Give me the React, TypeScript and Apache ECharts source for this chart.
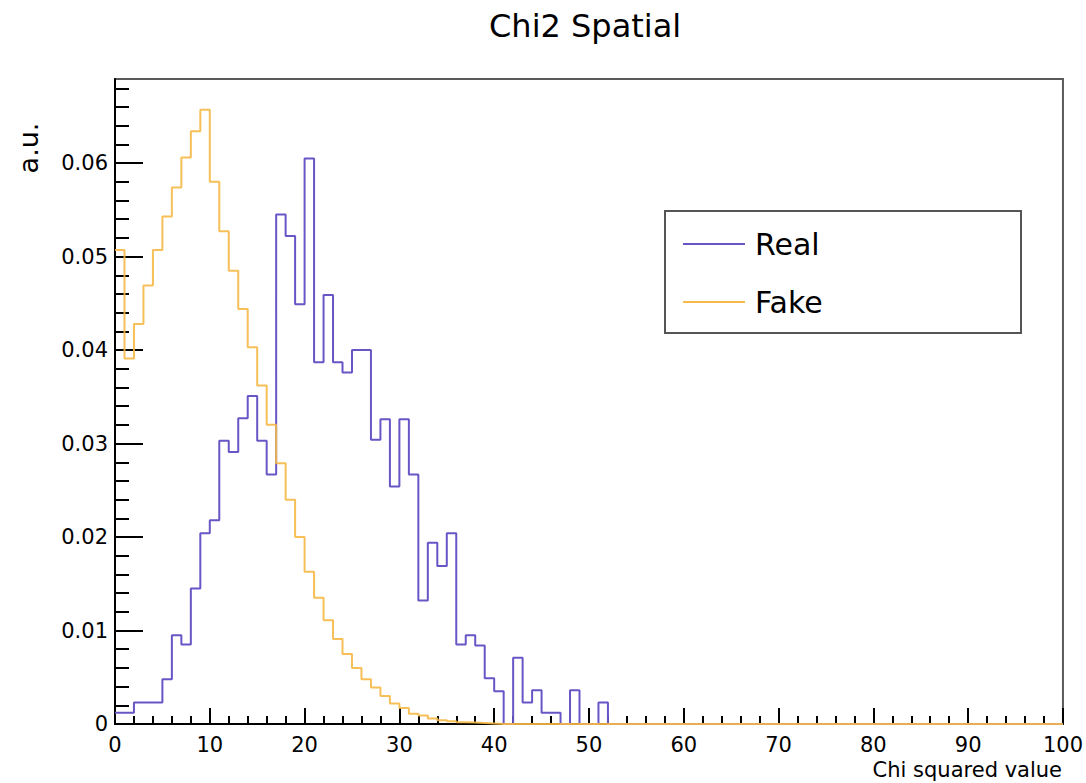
import React, { useEffect, useRef } from "react";
import * as echarts from "echarts";

// Histogram binning: 100 bins of width 1 from 0 to 100
const binLow = 0;
const binWidth = 1;

// Bin contents (a.u.)
const realValues = [
  0.0012, 0.0012, 0.0023, 0.0023, 0.0023, 0.0048, 0.0095, 0.0085, 0.0145, 0.0204,
  0.0218, 0.0303, 0.0291, 0.0327, 0.0351, 0.0303, 0.0267, 0.0545, 0.0522, 0.0449,
  0.0605, 0.0387, 0.0459, 0.0387, 0.0376, 0.0400, 0.0400, 0.0304, 0.0326, 0.0254,
  0.0326, 0.0267, 0.0132, 0.0194, 0.0169, 0.0204, 0.0085, 0.0095, 0.0084, 0.0049,
  0.0035, 0, 0.0071, 0.0023, 0.0036, 0.0012, 0.0012, 0, 0.0036, 0,
  0, 0.0023, 0, 0, 0, 0, 0, 0, 0, 0,
  0, 0, 0, 0, 0, 0, 0, 0, 0, 0,
  0, 0, 0, 0, 0, 0, 0, 0, 0, 0,
  0, 0, 0, 0, 0, 0, 0, 0, 0, 0,
  0, 0, 0, 0, 0, 0, 0, 0, 0, 0,
];

const fakeValues = [
  0.0507, 0.0391, 0.0428, 0.0469, 0.0507, 0.0543, 0.0574, 0.0606, 0.0634, 0.0657,
  0.0580, 0.0527, 0.0485, 0.0444, 0.0403, 0.0362, 0.0320, 0.0279, 0.0240, 0.0200,
  0.0163, 0.0135, 0.0111, 0.0091, 0.0075, 0.0060, 0.0048, 0.0039, 0.0030, 0.0022,
  0.0017, 0.0011, 0.0009, 0.0006, 0.0004, 0.0003, 0.0002, 0.00015, 0.0001, 0.00005,
  0, 0, 0, 0, 0, 0, 0, 0, 0, 0,
  0, 0, 0, 0, 0, 0, 0, 0, 0, 0,
  0, 0, 0, 0, 0, 0, 0, 0, 0, 0,
  0, 0, 0, 0, 0, 0, 0, 0, 0, 0,
  0, 0, 0, 0, 0, 0, 0, 0, 0, 0,
  0, 0, 0, 0, 0, 0, 0, 0, 0, 0,
];

const seriesNames = ["Real", "Fake"];
const yMajorTicks = [0, 0.01, 0.02, 0.03, 0.04, 0.05, 0.06];
const yMinorStep = 0.002;
const yMax = 0.069;
const xMin = 0;
const xMax = 100;
const xMajorStep = 10;

const FONT = "DejaVu Sans";
const REAL_COLOR = "#6757c6";
const FAKE_COLOR = "#f6b846";

function toSteps(values: number[]) {
  const pts: number[][] = values.map((v, i) => [binLow + i * binWidth, v]);
  pts.push([binLow + values.length * binWidth, values[values.length - 1]]);
  return pts;
}

export default function App() {
  const ref = useRef<HTMLDivElement>(null);

  useEffect(() => {
    if (!ref.current) return;
    const chart = echarts.init(ref.current, null, { renderer: "svg" });

    const yMinorTicks: number[] = [];
    for (let k = 1; k * yMinorStep < yMax; k++) {
      const v = +(k * yMinorStep).toFixed(4);
      if (!yMajorTicks.some((t) => Math.abs(t - v) < 1e-9)) yMinorTicks.push(v);
    }

    const option: any = {
      animation: false,
      backgroundColor: "#ffffff",
      grid: {
        left: 115,
        right: 23,
        top: 79,
        bottom: 59,
        show: true,
        borderColor: "#5a5a5a",
        borderWidth: 2,
        backgroundColor: "transparent",
      },
      legend: {
        orient: "vertical",
        left: 678,
        top: 222,
        itemWidth: 62,
        itemHeight: 2,
        itemGap: 24,
        icon: "rect",
        data: seriesNames,
        textStyle: {
          fontFamily: FONT,
          fontSize: 30,
          lineHeight: 34,
          color: "#000",
          padding: [0, 0, 0, 5],
        },
        z: 10,
      },
      xAxis: {
        type: "value",
        min: xMin,
        max: xMax,
        interval: xMajorStep,
        axisLine: { show: true, onZero: false, lineStyle: { color: "#000", width: 2 } },
        axisTick: { show: true, inside: true, length: 16, lineStyle: { color: "#000", width: 2 } },
        minorTick: { show: true, splitNumber: 5, length: 8, lineStyle: { color: "#000", width: 2 } },
        splitLine: { show: false },
        minorSplitLine: { show: false },
        axisLabel: {
          fontFamily: FONT,
          fontSize: 21,
          color: "#000",
          margin: 10,
        },
      },
      yAxis: [
        {
          type: "value",
          min: 0,
          max: yMax,
          position: "left",
          axisLine: { show: true, lineStyle: { color: "#000", width: 2 } },
          axisTick: {
            show: true,
            inside: true,
            length: 28,
            customValues: yMajorTicks,
            lineStyle: { color: "#000", width: 2 },
          },
          axisLabel: {
            customValues: yMajorTicks,
            fontFamily: FONT,
            fontSize: 21,
            color: "#000",
            margin: 7,
            formatter: (v: number) => (v === 0 ? "0" : v.toFixed(2)),
          },
          splitLine: { show: false },
        },
        {
          type: "value",
          min: 0,
          max: yMax,
          position: "left",
          axisLine: { show: false },
          axisTick: {
            show: true,
            inside: true,
            length: 14,
            customValues: yMinorTicks,
            lineStyle: { color: "#000", width: 2 },
          },
          axisLabel: { show: false },
          splitLine: { show: false },
        },
      ],
      series: [
        {
          name: seriesNames[0],
          type: "line",
          step: "end",
          symbol: "none",
          data: toSteps(realValues),
          lineStyle: { color: REAL_COLOR, width: 2 },
          itemStyle: { color: REAL_COLOR },
          z: 3,
        },
        {
          name: seriesNames[1],
          type: "line",
          step: "end",
          symbol: "none",
          data: toSteps(fakeValues),
          lineStyle: { color: FAKE_COLOR, width: 2, opacity: 0.9 },
          itemStyle: { color: FAKE_COLOR },
          z: 4,
        },
      ],
      graphic: [
        {
          type: "text",
          left: 589 - 100,
          top: 10,
          style: {
            text: "Chi2 Spatial",
            fontFamily: FONT,
            fontSize: 32,
            fill: "#000",
            width: 200,
            align: "center",
          },
          z: 5,
        },
        {
          type: "rect",
          shape: { x: 665, y: 211, width: 356, height: 122 },
          style: { fill: "#fff", stroke: "#555", lineWidth: 2 },
          z: 5,
        },
        {
          type: "text",
          x: 28,
          y: 148,
          rotation: Math.PI / 2,
          style: {
            text: "a.u.",
            fontFamily: FONT,
            fontSize: 27,
            fill: "#000",
            align: "center",
            verticalAlign: "middle",
          },
          z: 5,
        },
        {
          type: "text",
          x: 1062,
          y: 770,
          style: {
            text: "Chi squared value",
            fontFamily: FONT,
            fontSize: 21,
            fill: "#000",
            align: "right",
            verticalAlign: "middle",
          },
          z: 5,
        },
      ],
    };

    chart.setOption(option);
    return () => chart.dispose();
  }, []);

  return (
    <div
      ref={ref}
      style={{ position: "absolute", left: 0, top: 0, width: 1086, height: 783 }}
    />
  );
}
